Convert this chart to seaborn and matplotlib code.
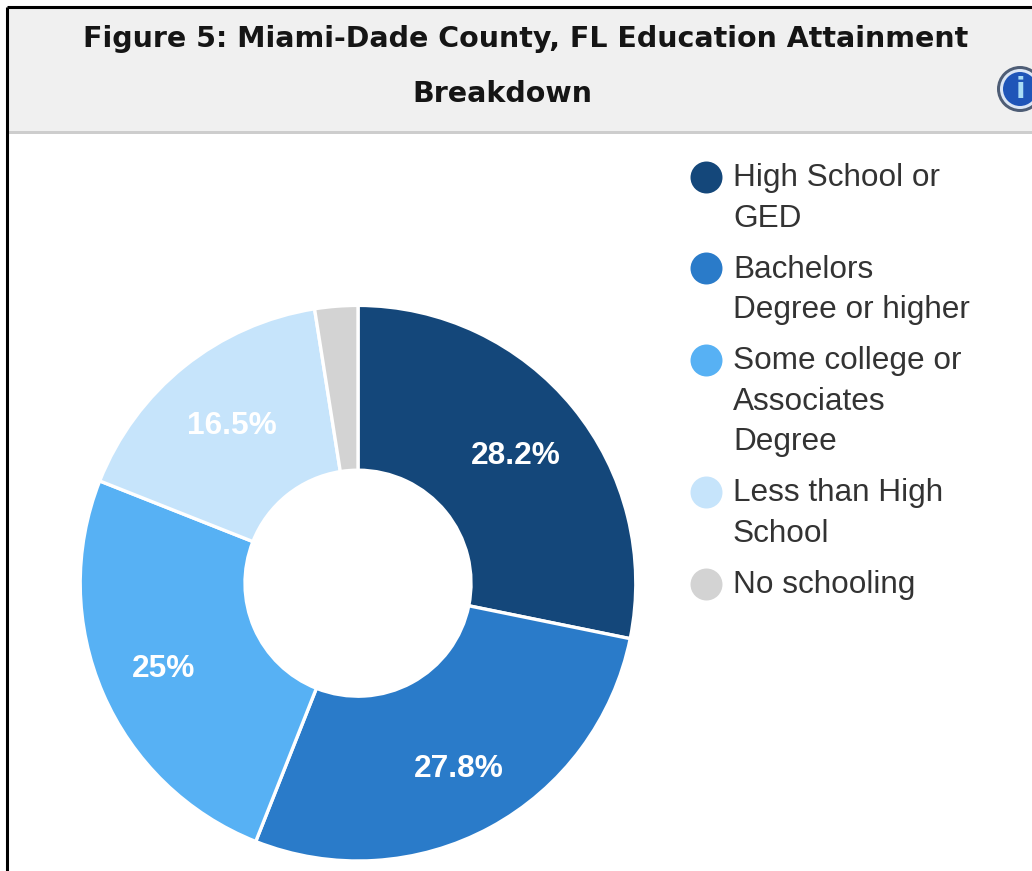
import matplotlib
matplotlib.use("Agg")
import matplotlib.pyplot as plt
from matplotlib.patches import Circle, Rectangle
import seaborn as sns

W, H = 1032, 871

# Education attainment shares (percent)
categories = ["High School or\nGED", "Bachelors\nDegree or higher",
              "Some college or\nAssociates\nDegree", "Less than High\nSchool", "No schooling"]
shares = [28.2, 27.8, 25.0, 16.5, 2.5]
slice_colors = ["#14477a", "#2a7bc9", "#57b1f4", "#c6e4fb", "#d3d3d3"]
title_lines = ["Figure 5: Miami-Dade County, FL Education Attainment", "Breakdown"]

sns.set_theme(style="white")
plt.rcParams["font.family"] = ["Liberation Sans", "DejaVu Sans"]
palette = sns.color_palette(slice_colors)

fig = plt.figure(figsize=(W / 100, H / 100), dpi=100, facecolor="white")

# Page layer in pixel coordinates: panel header, frame, info badge, legend
page = fig.add_axes([0, 0, 1, 1])
page.set_xlim(0, W)
page.set_ylim(H, 0)
page.axis("off")
page.add_patch(Rectangle((7, 7), W, 124, fc="#f0f0f0", ec="none"))
page.add_patch(Rectangle((7, 131), W, 3, fc="#cdcdcd", ec="none"))
page.plot([7, W], [7, 7], color="black", lw=2.2, solid_capstyle="butt")
page.plot([7, 7], [7, H], color="black", lw=2.2, solid_capstyle="butt")

page.text(526, 39, title_lines[0], family="DejaVu Sans", weight="bold", fontsize=20.5,
          color="#151515", ha="center", va="center")
page.text(502, 94, title_lines[1], family="DejaVu Sans", weight="bold", fontsize=20.5,
          color="#151515", ha="center", va="center")

# Info badge, cut by the right edge of the panel
page.add_patch(Circle((1020, 89), 23, fc="#4e5d75", ec="none"))
page.add_patch(Circle((1020, 89), 20, fc="#dbe6f5", ec="none"))
page.add_patch(Circle((1020, 89), 17, fc="#1f55b8", ec="none"))
page.text(1020, 90, "i", family="DejaVu Sans", weight="bold", fontsize=20,
          color="#a9dcf5", ha="center", va="center")

# Legend entries: a dot beside each wrapped label
line_height = 40.5
entry_gap = 10.5
y = 177
for label, color in zip(categories, palette):
    page.scatter([706], [y], s=530, color=[color], linewidths=0)
    lines = label.split("\n")
    for i, line in enumerate(lines):
        page.text(733, y + 1 + i * line_height, line, fontsize=22.7, color="#333333",
                  ha="left", va="center")
    y += len(lines) * line_height + entry_gap

# Donut chart
cx, cy, r = 358, 583.2, 277.8
box = r * 1.02
ax = fig.add_axes([(cx - box) / W, 1 - (cy + box) / H, 2 * box / W, 2 * box / H])
wedges, _, pct_texts = ax.pie(
    shares, colors=palette, startangle=90, counterclock=False, radius=1,
    wedgeprops=dict(width=1 - 113 / 277.8, edgecolor="white", linewidth=2.4),
    autopct=lambda p: f"{p:.3g}%" if p > 5 else "",
    pctdistance=0.733,
    textprops=dict(color="white", fontsize=22.8, weight="bold"),
)
ax.set_xlim(-1.02, 1.02)
ax.set_ylim(-1.02, 1.02)
ax.patch.set_alpha(0)

# Small nudges so the labels sit clear of the slice centres
label_nudges = [(0, -2), (4, -7), (-8, -5), (1, -2), (0, 0)]
for text, (dx, dy) in zip(pct_texts, label_nudges):
    px, py = text.get_position()
    text.set_position((px + dx / r, py + dy / r))

fig.savefig("out.png", dpi=100)
